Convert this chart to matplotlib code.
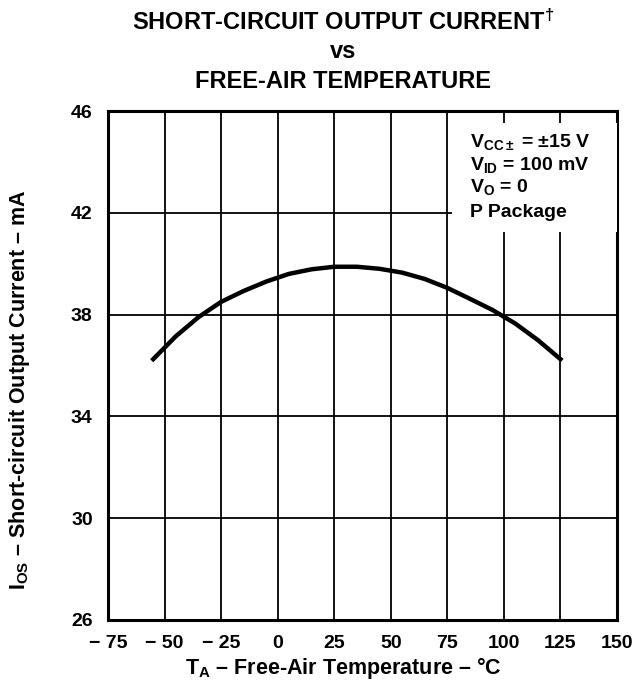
import matplotlib.pyplot as plt
from matplotlib.patches import Rectangle

plt.rcParams["font.family"] = ["Liberation Sans", "DejaVu Sans"]
plt.rcParams["font.weight"] = "bold"
plt.rcParams["mathtext.fontset"] = "custom"
plt.rcParams["mathtext.rm"] = "Liberation Sans:bold"
plt.rcParams["mathtext.it"] = "Liberation Sans:bold"
plt.rcParams["mathtext.bf"] = "Liberation Sans:bold"

# Short-circuit output current vs free-air temperature
temp_c = [-55, -45, -35, -25, -15, -5, 5, 15, 25, 35, 45, 55, 65, 75, 85, 95, 105, 115, 125]
ios_ma = [36.25, 37.15, 37.9, 38.5, 38.93, 39.3, 39.6, 39.78, 39.88, 39.88,
          39.8, 39.65, 39.4, 39.05, 38.62, 38.18, 37.65, 37.0, 36.25]

x_ticks = [-75, -50, -25, 0, 25, 50, 75, 100, 125, 150]
x_tick_labels = ["\u2212 75", "\u2212 50", "\u2212 25", "0", "25", "50", "75", "100", "125", "150"]
y_ticks = [26, 30, 34, 38, 42, 46]

conditions = [
    r"V$_{\mathrm{CC\pm}}$ = ±15 V",
    r"V$_{\mathrm{ID}}$ = 100 mV",
    r"V$_{\mathrm{O}}$ = 0",
    "P Package",
]

fig = plt.figure(figsize=(6.4, 6.91), dpi=100)
ax = fig.add_axes([108 / 640, 1 - 620 / 691, 509 / 640, 509 / 691])

ax.set_xlim(-75, 150)
ax.set_ylim(26, 46)
ax.set_xticks(x_ticks)
ax.set_xticklabels(x_tick_labels)
ax.set_yticks(y_ticks)
ax.tick_params(length=0, labelsize=14, pad=11)
ax.grid(True, color="black", linewidth=1.3)
ax.set_axisbelow(True)
for spine in ax.spines.values():
    spine.set_linewidth(2.2)

ax.plot(temp_c, ios_ma, color="black", linewidth=3.2, zorder=4)

# white block under the test conditions so the grid stops there
ax.add_patch(Rectangle((0.676, 0.762), 0.324, 0.214, transform=ax.transAxes,
                       facecolor="white", edgecolor="none", zorder=3))
baselines = [0.929, 0.884, 0.841, 0.792]
for y, line in zip(baselines, conditions):
    ax.text(0.711, y, line, transform=ax.transAxes, fontsize=14,
            fontweight="bold", va="baseline", ha="left", zorder=5)

title_x = 343 / 640
fig.text(title_x, 1 - 22 / 691, r"SHORT-CIRCUIT OUTPUT CURRENT$^{\dagger}$",
         ha="center", va="center", fontsize=17, fontweight="bold")
fig.text(title_x, 1 - 52 / 691, "vs", ha="center", va="center", fontsize=17, fontweight="bold")
fig.text(title_x, 1 - 82 / 691, "FREE-AIR TEMPERATURE", ha="center", va="center",
         fontsize=17, fontweight="bold")

fig.text(343 / 640, 1 - 668 / 691, r"T$_{\mathrm{A}}$ – Free-Air Temperature – °C",
         ha="center", va="center", fontsize=15.5, fontweight="bold")
fig.text(20 / 640, 1 - 390 / 691, r"I$_{\mathrm{OS}}$ – Short-circuit Output Current – mA",
         ha="center", va="center", rotation=90, fontsize=15.5, fontweight="bold")

fig.savefig("out.png", dpi=100)
